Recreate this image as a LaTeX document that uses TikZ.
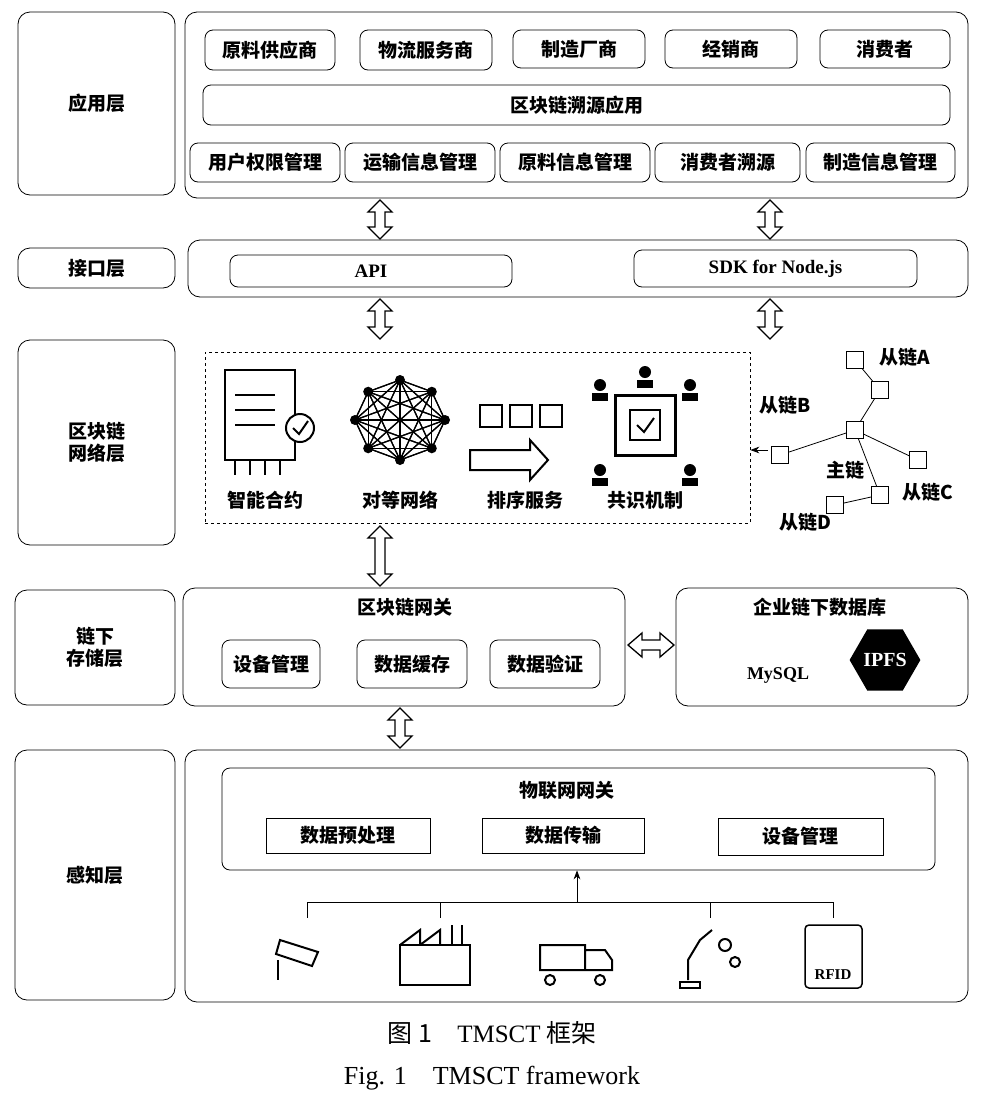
\documentclass[tikz,border=0pt]{standalone}
\usepackage{fontspec}
\setmainfont{Noto Sans CJK SC}
\newfontfamily\latin{Liberation Serif}
\usetikzlibrary{positioning,arrows.meta,shapes.geometric}

\tikzset{
  layer/.style={draw, thick, rounded corners=12pt, font=\fontsize{19}{22}\selectfont\bfseries, align=center},
  item/.style={draw, thick, rounded corners=8pt, font=\fontsize{19}{22}\selectfont\bfseries, inner sep=0pt},
  sqitem/.style={draw, thick, font=\fontsize{19}{22}\selectfont\bfseries, inner sep=0pt},
  lbl/.style={font=\fontsize{19}{22}\selectfont\bfseries, inner sep=1pt},
  hollow/.style={draw, line width=1.3pt, fill=white},
  cube/.style={draw, thick, minimum size=17pt, inner sep=0pt, fill=white}
}
% box from two corners
\newcommand{\boxat}[6]{\node[#1, minimum width=#4-#2, minimum height=#5-#3] (#6) at ({(#2+#4)/2},{(#3+#5)/2}) {};}
% hollow double arrows
\newcommand{\vdouble}[3]{\draw[hollow] (#1,#2) -- (#1+12,#2+12) -- (#1+5,#2+12) -- (#1+5,#3-12) -- (#1+12,#3-12) -- (#1,#3) -- (#1-12,#3-12) -- (#1-5,#3-12) -- (#1-5,#2+12) -- (#1-12,#2+12) -- cycle;}
\newcommand{\hdouble}[3]{\draw[hollow] (#2,#1) -- (#2+14,#1-12) -- (#2+14,#1-5) -- (#3-14,#1-5) -- (#3-14,#1-12) -- (#3,#1) -- (#3-14,#1+12) -- (#3-14,#1+5) -- (#2+14,#1+5) -- (#2+14,#1+12) -- cycle;}

\begin{document}
\begin{tikzpicture}[x=1pt, y=-1pt]
  \useasboundingbox (0,0) rectangle (984,1106);

  % Ebenen links
  \boxat{layer}{18}{12}{175}{195}{Lapp}
  \node[lbl] at (Lapp) {应用层};
  \boxat{layer}{18}{248}{175}{288}{Lif}
  \node[lbl] at (Lif) {接口层};
  \boxat{layer}{18}{340}{175}{545}{Lbc}
  \node[lbl, align=center] at (Lbc) {区块链\\网络层};
  \boxat{layer}{15}{590}{175}{705}{Lst}
  \node[lbl, align=center] at (Lst) {链下\\存储层};
  \boxat{layer}{15}{750}{175}{1000}{Lpe}
  \node[lbl] at (Lpe) {感知层};

  % Anwendungsschicht
  \boxat{layer}{185}{12}{968}{198}{app}
  \boxat{item}{205}{30}{335}{70}{a1} \node[lbl] at (a1) {原料供应商};
  \boxat{item}{360}{30}{492}{70}{a2} \node[lbl] at (a2) {物流服务商};
  \boxat{item}{513}{30}{645}{68}{a3} \node[lbl] at (a3) {制造厂商};
  \boxat{item}{665}{30}{797}{68}{a4} \node[lbl] at (a4) {经销商};
  \boxat{item}{820}{30}{950}{68}{a5} \node[lbl] at (a5) {消费者};
  \boxat{item}{203}{85}{950}{125}{trace} \node[lbl] at (trace) {区块链溯源应用};
  \boxat{item}{190}{143}{340}{182}{m1} \node[lbl] at (m1) {用户权限管理};
  \boxat{item}{345}{143}{495}{182}{m2} \node[lbl] at (m2) {运输信息管理};
  \boxat{item}{500}{143}{650}{182}{m3} \node[lbl] at (m3) {原料信息管理};
  \boxat{item}{655}{143}{800}{182}{m4} \node[lbl] at (m4) {消费者溯源};
  \boxat{item}{806}{143}{955}{182}{m5} \node[lbl] at (m5) {制造信息管理};

  % Schnittstelle
  \boxat{layer}{188}{240}{968}{297}{iface}
  \boxat{item}{230}{255}{512}{287}{api} \node[lbl, font=\latin\fontsize{19}{22}\selectfont\bfseries] at (api) {API};
  \boxat{item}{634}{250}{917}{287}{sdk} \node[lbl, font=\latin\fontsize{19}{22}\selectfont\bfseries] at (sdk) {SDK for Node.js};

  % Blockchain
  \boxat{draw, thick, dashed}{205}{352}{750}{523}{bc}
  \node[lbl] (t1) at (265,500) {智能合约};
  \node[lbl] (t2) at (400,500) {对等网络};
  \node[lbl] (t3) at (525,500) {排序服务};
  \node[lbl] (t4) at (645,500) {共识机制};
  % Icon: Vertrag
  \draw[line width=2pt] (225,370) rectangle (295,460);
  \foreach \y in {395,410,425} \draw[line width=2pt] (235,\y) -- (275,\y);
  \draw[line width=2pt, fill=white] (300,428) circle (14);
  \draw[line width=2pt] (293,428) -- (299,434) -- (308,421);
  \foreach \x in {235,250,265,280} \draw[line width=1.5pt] (\x,460) -- (\x,475);
  % Icon: Netz
  \foreach \a [count=\i] in {0,45,...,315} \coordinate (p\i) at ({400+45*cos(\a)},{420+40*sin(\a)});
  \foreach \i in {1,...,8} \foreach \j in {1,...,8} \draw[line width=1.2pt] (p\i) -- (p\j);
  \foreach \i in {1,...,8} \fill (p\i) circle (5);
  % Icon: Bloecke
  \foreach \x in {480,510,540} \draw[line width=2pt] (\x,405) rectangle ++(22,22);
  \draw[line width=2pt] (470,450) -- (530,450) -- (530,440) -- (548,460) -- (530,480) -- (530,470) -- (470,470) -- cycle;
  % Icon: Konsens
  \draw[line width=3pt] (615,395) rectangle (675,455);
  \draw[line width=2pt] (630,410) rectangle (660,440);
  \draw[line width=2pt] (637,425) -- (644,432) -- (654,418);
  \foreach \x/\y in {600/385,690/385,600/470,690/470,645/372} {\fill (\x,\y) circle (6); \fill (\x-8,\y+16) rectangle (\x+8,\y+8);}

  % Ketten rechts
  \node[cube] (cA) at (855,360) {};
  \node[cube] (cA2) at (880,390) {};
  \node[cube] (cB) at (780,455) {};
  \node[cube] (cM) at (855,430) {};
  \node[cube] (cC) at (918,460) {};
  \node[cube] (cD) at (835,505) {};
  \node[cube] (cM2) at (880,495) {};
  \draw[thick] (cA) -- (cA2) (cB) -- (cM) (cM) -- (cC) (cM) -- (cM2) (cM2) -- (cD) (cM) -- (cA2);
  \node[lbl] at (905,357) {从链A};
  \node[lbl] at (785,405) {从链B};
  \node[lbl] at (845,470) {主链};
  \node[lbl] at (928,492) {从链C};
  \node[lbl] at (805,522) {从链D};
  \coordinate (cBw) at (768,450);
  \draw[thick, -{Stealth[length=9pt]}] (cBw) -- (bc.east |- cBw);

  % Speicher
  \boxat{layer}{183}{588}{625}{706}{gw}
  \node[lbl] at (405,607) {区块链网关};
  \boxat{item}{222}{640}{320}{688}{s1} \node[lbl] at (s1) {设备管理};
  \boxat{item}{357}{640}{467}{688}{s2} \node[lbl] at (s2) {数据缓存};
  \boxat{item}{490}{640}{600}{688}{s3} \node[lbl] at (s3) {数据验证};
  \boxat{layer}{676}{588}{968}{706}{db}
  \node[lbl] at (820,607) {企业链下数据库};
  \node[lbl, font=\latin\fontsize{18}{20}\selectfont\bfseries] at (778,675) {MySQL};
  \node[regular polygon, regular polygon sides=6, fill=black, minimum size=70pt, inner sep=0pt, text=white, font=\latin\fontsize{20}{22}\selectfont\bfseries] (ipfs) at (885,660) {IPFS};

  % Wahrnehmung
  \boxat{layer}{185}{750}{968}{1002}{per}
  \boxat{item}{222}{768}{935}{870}{iot}
  \node[lbl] at (567,790) {物联网网关};
  \boxat{sqitem}{266}{818}{430}{853}{g1} \node[lbl] at (g1) {数据预处理};
  \boxat{sqitem}{482}{818}{644}{853}{g2} \node[lbl] at (g2) {数据传输};
  \boxat{sqitem}{718}{818}{883}{855}{g3} \node[lbl] at (g3) {设备管理};
  \coordinate (hub) at (577,902);
  \draw[thick] (307,902) -- (833,902);
  \foreach \x in {307,440,710,833} \draw[thick] (\x,902) -- (\x,918);
  \draw[thick, -{Stealth[length=9pt]}] (hub) -- (iot.south -| hub);
  % Geraete
  \draw[line width=2pt] (280,940) -- (318,952) -- (312,966) -- (276,954) -- cycle;
  \draw[line width=2pt] (278,960) -- (278,980);
  \draw[line width=2pt] (400,985) rectangle (470,945);
  \draw[line width=2pt] (400,945) -- (420,930) -- (420,945) (420,945) -- (440,930) -- (440,945);
  \draw[line width=2pt] (452,945) -- (452,925) (462,945) -- (462,925);
  \draw[line width=2pt] (540,945) rectangle (585,970) (585,950) -- (605,950) -- (612,960) -- (612,970) -- (585,970);
  \draw[line width=2pt] (550,980) circle (5) (600,980) circle (5);
  \draw[line width=2pt] (688,980) -- (688,960) -- (700,940) -- (712,930);
  \draw[line width=2pt] (680,982) rectangle (700,988);
  \draw[line width=2pt] (725,945) circle (6) (735,962) circle (5);
  \draw[line width=1.5pt, rounded corners=4pt] (805,925) rectangle (862,988);
  \node[font=\latin\fontsize{15}{17}\selectfont\bfseries, inner sep=0pt] (rfid) at (833,975) {RFID};

  % Doppelpfeile
  \foreach \x in {380,770} {
    \vdouble{\x}{200}{239}
    \vdouble{\x}{299}{339}
  }
  \vdouble{380}{526}{586}
  \hdouble{645}{628}{674}
  \vdouble{400}{708}{748}

  % Beschriftung
  \node[font=\fontsize{25}{28}\selectfont] (cap1) at (492,1033) {图 1\quad {\latin TMSCT} 框架};
  \node[font=\latin\fontsize{26}{28}\selectfont] (cap2) at (492,1078) {Fig. 1\quad TMSCT framework};
\end{tikzpicture}
\end{document}
